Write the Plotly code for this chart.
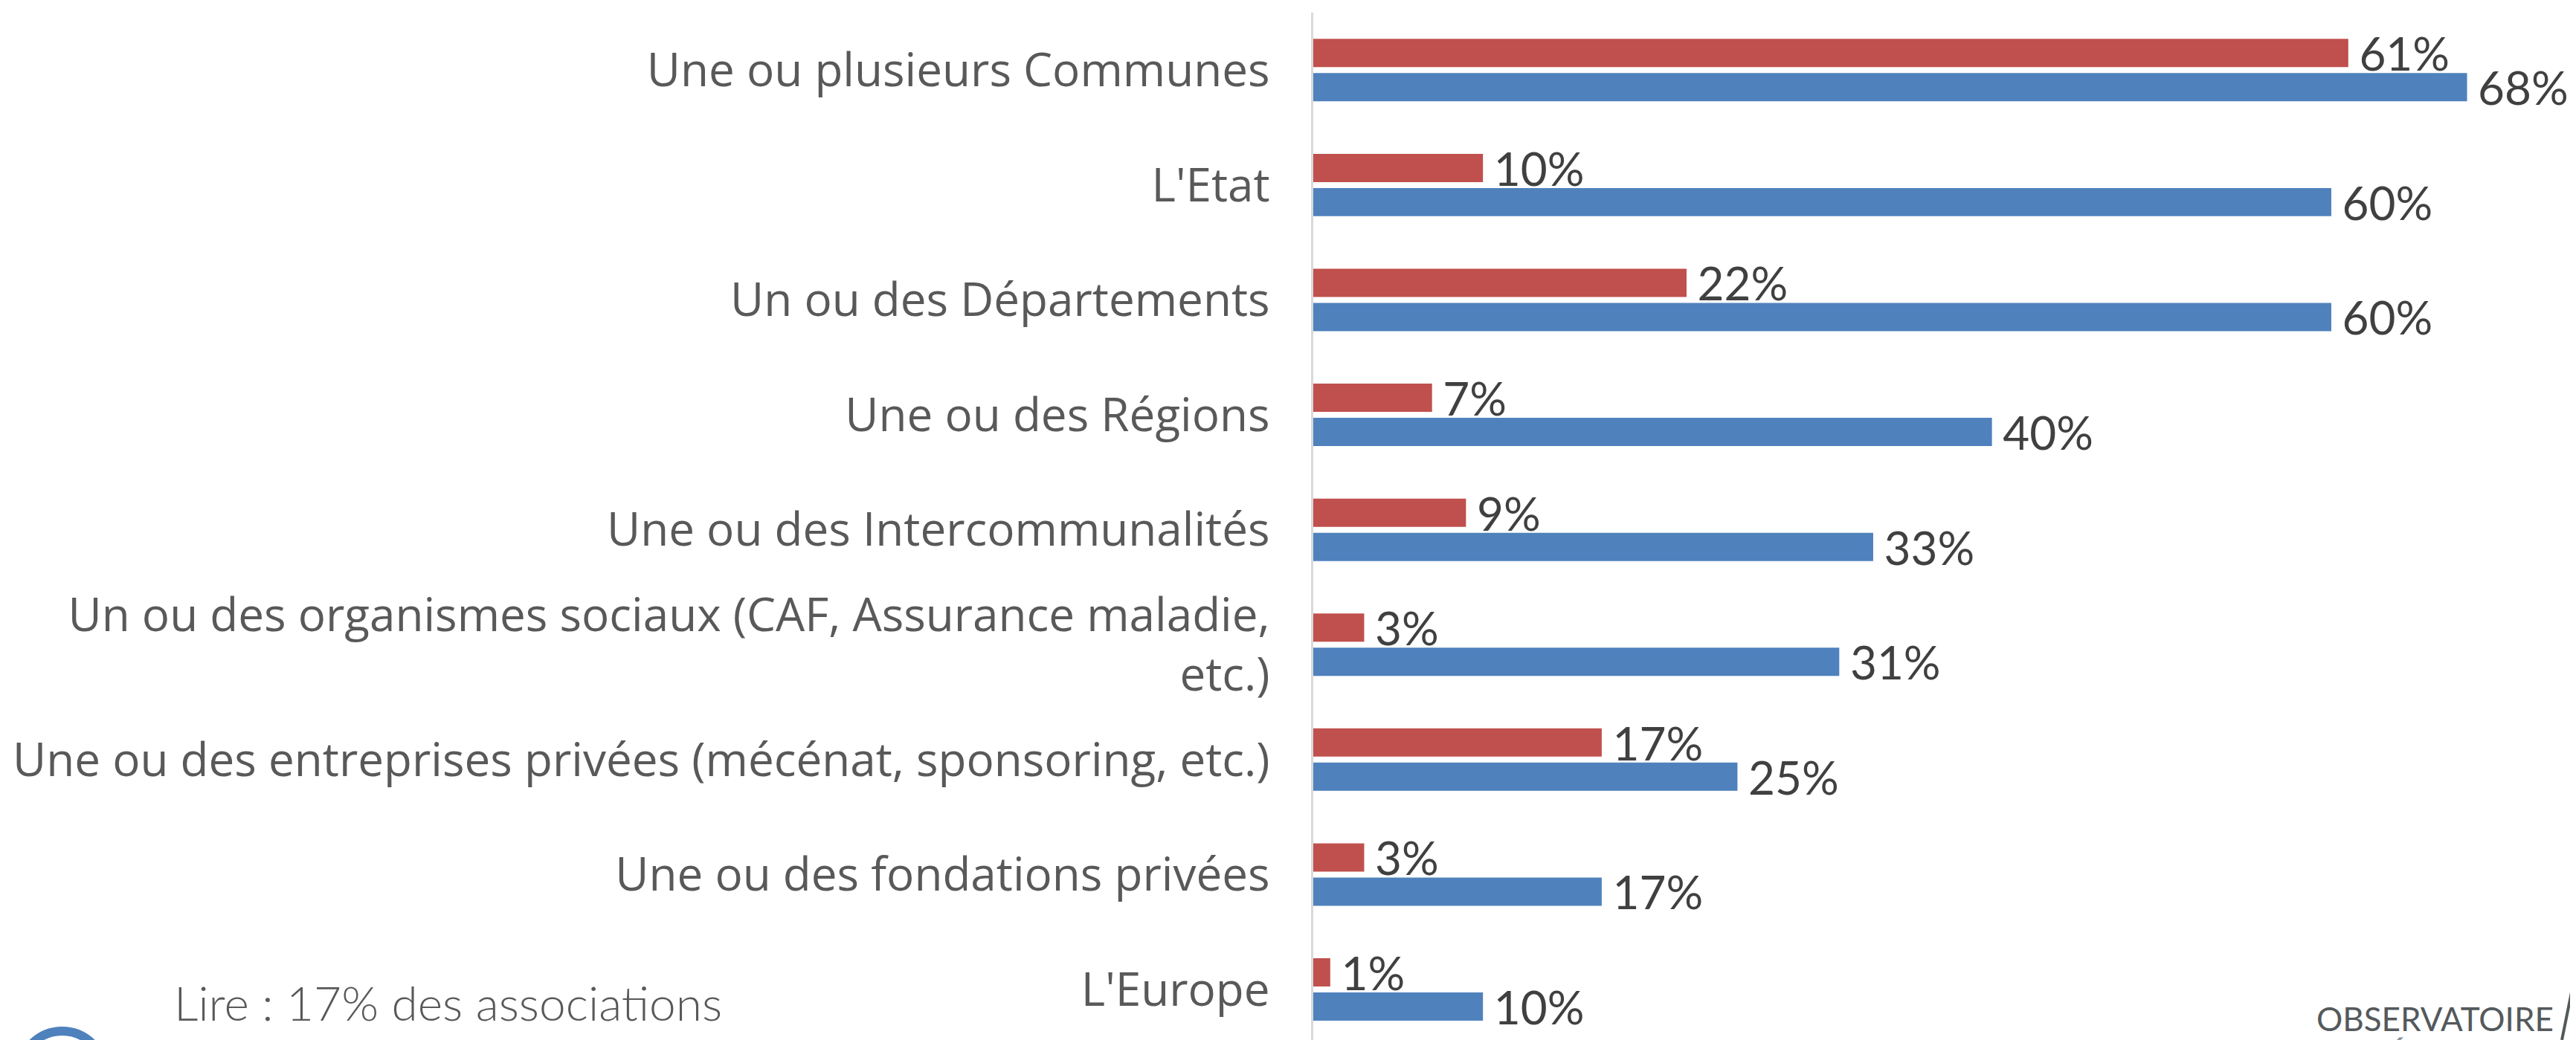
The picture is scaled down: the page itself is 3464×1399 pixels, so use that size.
import plotly.graph_objects as go

categories = [
    "Une ou plusieurs Communes",
    "L'Etat",
    "Un ou des Départements",
    "Une ou des Régions",
    "Une ou des Intercommunalités",
    "Un ou des organismes sociaux (CAF, Assurance maladie,<br>etc.)",
    "Une ou des entreprises privées (mécénat, sponsoring, etc.)",
    "Une ou des fondations privées",
    "L'Europe",
]
red_values = [61, 10, 22, 7, 9, 3, 17, 3, 1]
blue_values = [68, 60, 60, 40, 33, 31, 25, 17, 10]
RED = "#C0504D"
BLUE = "#4F81BD"
OFF = 8  # default page margin round the figure
W, H = 3464 - OFF, 1399 - OFF
L = 1765.7 - OFF
T = 17 - OFF
FONT = "Open Sans"

def px(x):
    return (x - OFF - L) / (W - L)

def py(y):
    return (H - (y - OFF)) / (H - T)

fig = go.Figure()
for vals, col in ((red_values, RED), (blue_values, BLUE)):
    fig.add_trace(go.Bar(
        y=categories, x=vals, orientation="h",
        marker=dict(color=col, line=dict(width=0)),
        text=[f"\u2009\u200a{v}%" for v in vals],
        textposition="outside", cliponaxis=False, constraintext="none",
        textfont=dict(family="Lato", size=62, color="#404040"),
        showlegend=False,
    ))

fig.update_layout(
    width=W, height=H, autosize=False,
    margin=dict(l=L, r=0, t=T, b=0, pad=0),
    paper_bgcolor="white", plot_bgcolor="white",
    barmode="group", bargap=0.405, bargroupgap=0.174,
    xaxis=dict(range=[0, (W - L) / 22.82], visible=False, domain=[0, 1]),
    yaxis=dict(
        type="category", range=[8.44, -0.5], showgrid=False, zeroline=False,
        showline=True, linecolor="#D9D9D9", linewidth=3, ticks="",
        ticklabelstandoff=43,
        tickfont=dict(family=FONT, size=62, color="#595959"),
    ),
    annotations=[
        dict(text="Lire : 17% des associations", xref="paper", yref="paper",
             x=px(231), y=py(1348), xanchor="left", yanchor="middle",
             showarrow=False, font=dict(family="Lato Light", size=64, color="#595959")),
        dict(text="OBSERVATOIRE", xref="paper", yref="paper",
             x=px(3436), y=py(1370), xanchor="right", yanchor="middle",
             showarrow=False, font=dict(family="Lato", size=44, color="#54595C")),
        dict(text="RÉGIONAL", xref="paper", yref="paper",
             x=px(3402), y=py(1392), xanchor="right", yanchor="top",
             showarrow=False, font=dict(family="Lato", size=44, color="#8A8F92")),
    ],
    shapes=[
        dict(type="line", xref="paper", yref="paper",
             x0=px(3463), y0=py(1310), x1=px(3445), y1=py(1399),
             line=dict(color="#54595C", width=4)),
        dict(type="circle", xref="paper", yref="paper",
             x0=px(26), x1=px(140), y0=py(1387), y1=py(1501),
             line=dict(color=BLUE, width=12)),
    ],
)
fig.write_html("out.html")
